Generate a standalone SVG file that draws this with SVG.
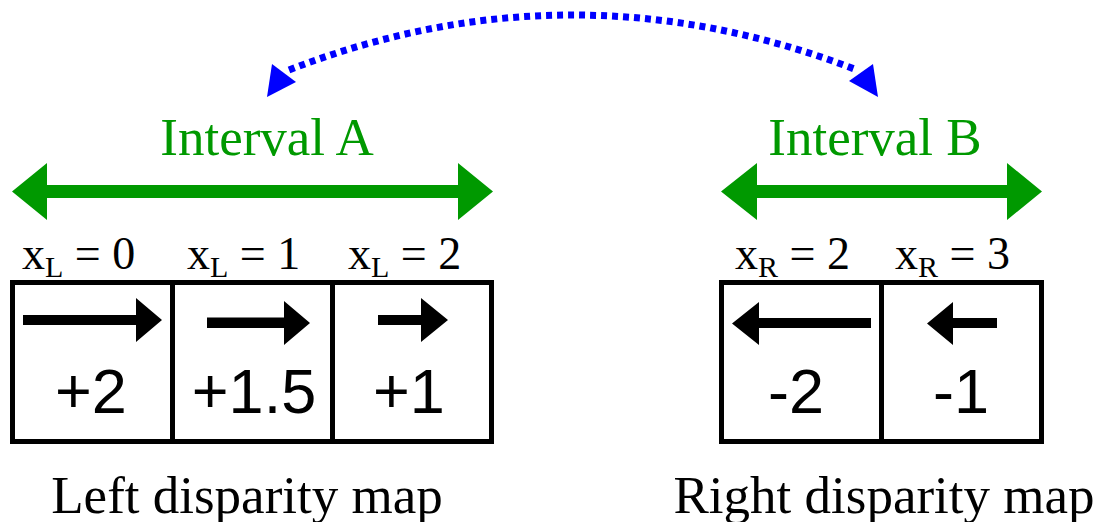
<svg xmlns="http://www.w3.org/2000/svg" width="1099" height="522" viewBox="0 0 1099 522">
<style>
.serif{font-family:"Liberation Serif","Times New Roman",serif;fill:#000}
.big{font-size:53px}
.lbl{font-size:46px}
.sub{font-size:30px}
.num{font-family:"Liberation Sans",Arial,sans-serif;font-size:63px;fill:#000;text-anchor:middle}
.green{fill:#009900}
.box{fill:#fff;stroke:#000;stroke-width:5}
.div{stroke:#000;stroke-width:5}
.blk{fill:#000}
</style>
<g id="connectors">
<path d="M 289 70 Q 572 -40 857 70" fill="none" stroke="#0000ff" stroke-width="7" stroke-dasharray="6 5"/>
<polygon points="267,97 272,64 296,82" fill="#0000ff"/>
<polygon points="878,97 849,81 873,64" fill="#0000ff"/>
</g>
<g id="intervalA">
<text class="serif big green" x="267" y="155" text-anchor="middle">Interval A</text>
<polygon class="green" points="12,191.5 47,163 47,185 458,185 458,163 493,191.5 458,220 458,198 47,198 47,220"/>
</g>
<g id="intervalB">
<text class="serif big green" x="875" y="155" text-anchor="middle">Interval B</text>
<polygon class="green" points="721,191.5 757,163 757,185 1007,185 1007,163 1042,191.5 1007,220 1007,198 757,198 757,220"/>
</g>
<g id="leftMap">
<text class="serif lbl" x="22" y="269">x<tspan class="sub" dy="8">L</tspan><tspan dy="-8"> = 0</tspan></text>
<text class="serif lbl" x="187" y="269">x<tspan class="sub" dy="8">L</tspan><tspan dy="-8"> = 1</tspan></text>
<text class="serif lbl" x="348" y="269">x<tspan class="sub" dy="8">L</tspan><tspan dy="-8"> = 2</tspan></text>
<rect class="box" x="12.5" y="282.5" width="479" height="159"/>
<line class="div" x1="172.5" y1="282" x2="172.5" y2="442"/>
<line class="div" x1="332.5" y1="282" x2="332.5" y2="442"/>
<g id="cellL0">
<polygon class="blk" points="23,315 136,315 136,298 162,320 136,342 136,325 23,325"/>
<text class="num" x="91" y="413">+2</text>
</g>
<g id="cellL1">
<polygon class="blk" points="207,317.5 284,317.5 284,301 310,323 284,345 284,328 207,328"/>
<text class="num" x="254" y="413">+1.5</text>
</g>
<g id="cellL2">
<polygon class="blk" points="378,315 421,315 421,298 448,320 421,342 421,325 378,325"/>
<text class="num" x="409" y="413">+1</text>
</g>
<text class="serif big" x="247" y="513" text-anchor="middle">Left disparity map</text>
</g>
<g id="rightMap">
<text class="serif lbl" x="735" y="269">x<tspan class="sub" dy="8">R</tspan><tspan dy="-8"> = 2</tspan></text>
<text class="serif lbl" x="895" y="269">x<tspan class="sub" dy="8">R</tspan><tspan dy="-8"> = 3</tspan></text>
<rect class="box" x="721.5" y="282.5" width="320" height="159"/>
<line class="div" x1="881.5" y1="282" x2="881.5" y2="442"/>
<g id="cellR0">
<polygon class="blk" points="871,318 759,318 759,302 732,323.5 759,345 759,328 871,328"/>
<text class="num" x="796" y="413">-2</text>
</g>
<g id="cellR1">
<polygon class="blk" points="997,318 953,318 953,302 927,323.5 953,345 953,328 997,328"/>
<text class="num" x="961" y="413">-1</text>
</g>
<text class="serif big" x="884" y="513" text-anchor="middle">Right disparity map</text>
</g>
</svg>
